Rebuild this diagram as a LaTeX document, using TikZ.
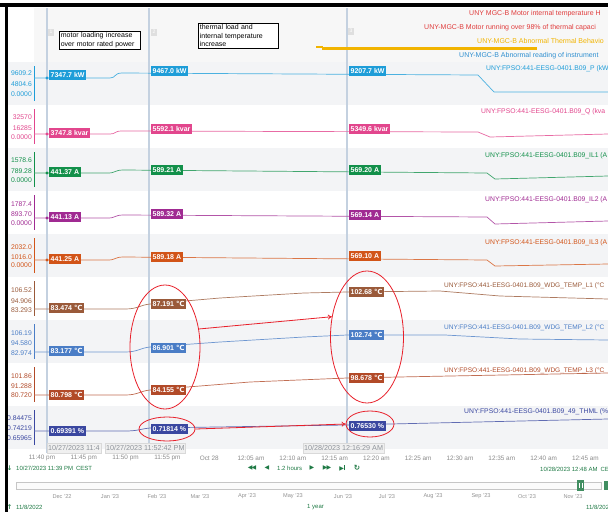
\documentclass[tikz,border=0pt]{standalone}
\usepackage{fontspec}
\setmainfont{Liberation Sans}
\newfontfamily\djv{DejaVu Sans}
\usetikzlibrary{shapes.geometric,arrows.meta}
\definecolor{pcol}{HTML}{1E9DD8}
\definecolor{qcol}{HTML}{E2468D}
\definecolor{gacol}{HTML}{12904A}
\definecolor{gbcol}{HTML}{A02A92}
\definecolor{gccol}{HTML}{D25418}
\definecolor{tacol}{HTML}{9A5A3A}
\definecolor{tbcol}{HTML}{4A7DC6}
\definecolor{tccol}{HTML}{B24A28}
\definecolor{hcol}{HTML}{3A47A0}
\definecolor{bandcol}{HTML}{F3F4F6}
\definecolor{curcol}{HTML}{C4D1E0}
\definecolor{annred}{HTML}{E8202A}
\definecolor{alred}{HTML}{E03C3C}
\definecolor{alyel}{HTML}{F2B400}
\definecolor{alblue}{HTML}{2F8FD0}
\definecolor{navgreen}{HTML}{1F7A45}
\definecolor{datecol}{HTML}{8E939A}
\newcommand\dgc{{\djv ℃}}
\begin{document}
\begin{tikzpicture}[x=1pt,y=-1pt,
  every node/.style={inner sep=0pt},
  vbox/.style={fill=#1, text=white, font=\fontsize{7}{8}\selectfont\bfseries, inner xsep=1.5pt, inner ysep=0pt, minimum height=10pt, anchor=west},
  axl/.style={text=#1, font=\fontsize{6.8}{7}\selectfont, anchor=east},
  rlab/.style={text=#1, font=\fontsize{6.8}{8}\selectfont, anchor=west},
  tlab/.style={text=#1, font=\fontsize{6.55}{8}\selectfont, anchor=west},
  alab/.style={text=#1, font=\fontsize{7}{8}\selectfont, anchor=west},
  dline/.style={#1!80, line width=0.7},
  axline/.style={#1, line width=0.8},
  annbox/.style={draw=black, line width=0.7, fill=white, anchor=north west, align=left, font=\fontsize{7}{8.2}\selectfont, inner xsep=1.5pt, inner ysep=1.5pt},
  redring/.style={ellipse, draw=annred, line width=0.8, inner sep=0pt},
  redarrow/.style={annred, line width=0.8, -{To[length=4pt,width=5pt]}},
  datebox/.style={fill=gray!12, draw=gray!30, text=datecol, font=\fontsize{7.2}{8}\selectfont, anchor=west, minimum height=10pt, inner xsep=1pt},
  tick/.style={text=gray!90, font=\fontsize{6.4}{7}\selectfont},
  month/.style={text=gray!85, font=\fontsize{5.6}{6}\selectfont},
  nav/.style={text=navgreen, font=\fontsize{6}{7}\selectfont},
  numbox/.style={fill=gray!25, text=white, font=\fontsize{5}{5}\selectfont, minimum width=5.5pt, minimum height=7pt}
]
\useasboundingbox (0,0) rectangle (608,512);
\clip (0,0) rectangle (608,512);
\fill[white] (0,0) rectangle (608,512);
% bands
\fill[gray!6] (34,8) rectangle (608,62);
\foreach \t in {62,148,234,320,406} \fill[bandcol] (8,\t) rectangle (608,\t+43);
% cursors
\foreach \x in {47,149,347} \draw[curcol, line width=1.2] (\x,8) -- (\x,453);
\node[numbox] (c1) at (51,32) {1};
\node[numbox] (c2) at (154,32) {2};
\node[numbox] (c3) at (351,31) {3};

% ---------- P ----------
\node[axl=pcol] (pa1) at (32,73) {9609.2};
\node[axl=pcol] (pa2) at (32,84) {4804.6};
\node[axl=pcol] (pa3) at (32,94) {0.0000};
\draw[axline=pcol] (34,66) -- (34,101);
\draw[dline=pcol] (34,78) -- (110,78) .. controls (116,78) and (114,73) .. (122,73) -- (478,75) -- (494,92) -- (608,92);
\fill[pcol] (47,78) circle (1.6);
\node[vbox=pcol] (pb1) at (49,75) {7347.7 kW};
\node[vbox=pcol] (pb2) at (151,71) {9467.0 kW};
\node[vbox=pcol] (pb3) at (349,71) {9207.7 kW};
\node[rlab=pcol] (pr) at (486,69) {UNY:FPSO:441-EESG-0401.B09\_P (kW};

% ---------- Q ----------
\node[axl=qcol] (qa1) at (32,117) {32570};
\node[axl=qcol] (qa2) at (32,128) {16285};
\node[axl=qcol] (qa3) at (32,137) {0.0000};
\draw[axline=qcol] (34,109) -- (34,144);
\draw[dline=qcol] (34,134) -- (110,134) .. controls (116,134) and (114,131) .. (122,131) -- (478,132) -- (490,137) -- (608,134);
\fill[qcol] (47,134) circle (1.6);
\node[vbox=qcol] (qb1) at (49,133) {3747.8 kvar};
\node[vbox=qcol] (qb2) at (151,129) {5592.1 kvar};
\node[vbox=qcol] (qb3) at (349,129) {5349.6 kvar};
\node[rlab=qcol] (qr) at (481,112) {UNY:FPSO:441-EESG-0401.B09\_Q (kva};

% ---------- IL1 ----------
\node[axl=gacol] (ga1) at (32,160) {1578.6};
\node[axl=gacol] (ga2) at (32,171) {789.28};
\node[axl=gacol] (ga3) at (32,180) {0.0000};
\draw[axline=gacol] (34,152) -- (34,187);
\draw[dline=gacol] (34,173) -- (108,173) .. controls (116,173) and (114,170) .. (124,170) -- (487,173) -- (495,179) -- (608,176);
\fill[gacol] (47,173) circle (1.6);
\node[vbox=gacol] (gb1) at (49,172) {441.37 A};
\node[vbox=gacol] (gb2) at (151,170) {589.21 A};
\node[vbox=gacol] (gb3) at (349,170) {569.20 A};
\node[rlab=gacol] (gr) at (485,156) {UNY:FPSO:441-EESG-0401.B09\_IL1 (A};

% ---------- IL2 ----------
\node[axl=gbcol] (ha1) at (32,204) {1787.4};
\node[axl=gbcol] (ha2) at (32,214) {893.70};
\node[axl=gbcol] (ha3) at (32,223) {0.0000};
\draw[axline=gbcol] (34,195) -- (34,230);
\draw[dline=gbcol] (34,218) -- (108,218) .. controls (116,218) and (114,215) .. (124,215) -- (487,217) -- (495,224) -- (608,221);
\fill[gbcol] (47,218) circle (1.6);
\node[vbox=gbcol] (hb1) at (49,217) {441.13 A};
\node[vbox=gbcol] (hb2) at (151,214) {589.32 A};
\node[vbox=gbcol] (hb3) at (349,215) {569.14 A};
\node[rlab=gbcol] (hr) at (485,200) {UNY:FPSO:441-EESG-0401.B09\_IL2 (A};

% ---------- IL3 ----------
\node[axl=gccol] (ia1) at (32,247) {2032.0};
\node[axl=gccol] (ia2) at (32,257) {1016.0};
\node[axl=gccol] (ia3) at (32,265) {0.0000};
\draw[axline=gccol] (34,238) -- (34,273);
\draw[dline=gccol] (34,260) -- (108,260) .. controls (116,260) and (114,257) .. (124,257) -- (487,260) -- (495,266) -- (608,264);
\fill[gccol] (47,260) circle (1.6);
\node[vbox=gccol] (ib1) at (49,259) {441.25 A};
\node[vbox=gccol] (ib2) at (151,257) {589.18 A};
\node[vbox=gccol] (ib3) at (349,256) {569.10 A};
\node[rlab=gccol] (ir) at (485,243) {UNY:FPSO:441-EESG-0401.B09\_IL3 (A};

% ---------- TEMP L1 ----------
\node[axl=tacol] (ja1) at (32,290) {106.52};
\node[axl=tacol] (ja2) at (32,301) {94.906};
\node[axl=tacol] (ja3) at (32,310) {83.293};
\draw[axline=tacol] (34,281) -- (34,316);
\draw[dline=tacol] (34,309) -- (125,309) .. controls (138,309) and (140,305) .. (150,304) -- (220,298) -- (304,293) -- (347,292) -- (440,291) -- (500,296) -- (608,299);
\node[vbox=tacol] (jb1) at (49,308) {83.474 \dgc};
\node[vbox=tacol] (jb2) at (151,304) {87.191 \dgc};
\node[vbox=tacol] (jb3) at (349,292) {102.68 \dgc};
\node[tlab=tacol] (jr) at (444,286) {UNY:FPSO:441-EESG-0401.B09\_WDG\_TEMP\_L1 (°C};

% ---------- TEMP L2 ----------
\node[axl=tbcol] (ka1) at (32,333) {106.19};
\node[axl=tbcol] (ka2) at (32,343) {94.580};
\node[axl=tbcol] (ka3) at (32,353) {82.974};
\draw[axline=tbcol] (34,324) -- (34,359);
\draw[dline=tbcol] (34,352) -- (125,352) .. controls (138,352) and (140,348) .. (150,347) -- (220,342) -- (304,337) -- (347,335) -- (445,335) -- (520,339) -- (608,340);
\node[vbox=tbcol] (kb1) at (49,351) {83.177 \dgc};
\node[vbox=tbcol] (kb2) at (151,348) {86.901 \dgc};
\node[vbox=tbcol] (kb3) at (349,335) {102.74 \dgc};
\node[tlab=tbcol] (kr) at (444,328) {UNY:FPSO:441-EESG-0401.B09\_WDG\_TEMP\_L2 (°C};

% ---------- TEMP L3 ----------
\node[axl=tccol] (la1) at (32,376) {101.86};
\node[axl=tccol] (la2) at (32,386) {91.288};
\node[axl=tccol] (la3) at (32,395) {80.720};
\draw[axline=tccol] (34,367) -- (34,402);
\draw[dline=tccol] (34,395) -- (125,395) .. controls (138,395) and (140,391) .. (150,390) -- (250,382) -- (347,378) -- (450,376) -- (608,373);
\node[vbox=tccol] (lb1) at (49,395) {80.798 \dgc};
\node[vbox=tccol] (lb2) at (151,390) {84.155 \dgc};
\node[vbox=tccol] (lb3) at (349,378) {98.678 \dgc};
\node[tlab=tccol] (lr) at (444,371) {UNY:FPSO:441-EESG-0401.B09\_WDG\_TEMP\_L3 (°C};

% ---------- THML ----------
\node[axl=hcol] (ma1) at (32,418) {0.84475};
\node[axl=hcol] (ma2) at (32,428) {0.74219};
\node[axl=hcol] (ma3) at (32,438) {0.65965};
\draw[axline=hcol] (34,410) -- (34,445);
\draw[dline=hcol] (34,431) -- (125,431) .. controls (138,431) and (140,429) .. (150,428) -- (347,425) -- (608,419);
\node[vbox=hcol] (mb1) at (49,431) {0.69391 \%};
\node[vbox=hcol] (mb2) at (151,429) {0.71814 \%};
\node[vbox=hcol] (mb3) at (349,426) {0.76530 \%};
\node[rlab=hcol] (mr) at (464,412) {UNY:FPSO:441-EESG-0401.B09\_49\_THML (\%};

% ---------- annotations ----------
\node[annbox, text width=78pt] (n1) at (59,31) {motor loading increase\\over motor rated power};
\node[annbox, text width=77pt] (n2) at (198,23) {thermal load and\\internal temperature\\increase};

% ---------- alarms ----------
\node[alab=alred] (al1) at (469,14) {UNY MGC-B Motor internal temperature H};
\node[alab=alred] (al2) at (424,28) {UNY-MGC-B Motor running over 98\% of thermal capaci};
\node[alab=alyel] (al3) at (477,41) {UNY-MGC-B Abnormal Thermal Behavio};
\node[alab=alblue] (al4) at (459,56) {UNY-MGC-B Abnormal reading of instrument};
\draw[alyel, line width=3] (322,48.5) -- (537,48.5);
\draw[alyel, line width=2] (316,46.5) -- (323,46.5);

% ---------- red marks ----------
\node[redring, minimum width=70pt, minimum height=124pt] (e1) at (165,347) {};
\node[redring, minimum width=73pt, minimum height=132pt] (e2) at (367,337) {};
\node[redring, minimum width=56pt, minimum height=24pt] (e3) at (167,429) {};
\node[redring, minimum width=48pt, minimum height=26pt] (e4) at (370,424) {};
\draw[redarrow] (e1.28) -- (e2.150);
\draw[redarrow] (e3.east) -- (e4.west);

% ---------- date boxes ----------
\node[datebox] (d1) at (47,448) {10/27/2023 11:4};
\node[datebox] (d2) at (105,448) {10/27/2023 11:52:42 PM};
\node[datebox] (d3) at (303,448) {10/28/2023 12:16:29 AM};

% ---------- time axis ----------
\foreach \t [count=\i from 0] in {11:40 pm,11:45 pm,11:50 pm,11:55 pm,Oct 28,12:05 am,12:10 am,12:15 am,12:20 am,12:25 am,12:30 am,12:35 am,12:40 am,12:45 am}
  \node[tick] (t\i) at ({42+41.8*\i},458) {\t};

% ---------- navigation ----------
\node[nav, font=\djv\fontsize{6.5}{7}\selectfont\bfseries] (down) at (9.5,468) {↓};
\node[nav, anchor=west] (start) at (16,468) {10/27/2023 11:39 PM\enspace CEST};
\node[nav, font=\djv\fontsize{6}{7}\selectfont] (bb) at (252,468) {◀\kern-1pt◀};
\node[nav, font=\djv\fontsize{6}{7}\selectfont] (b) at (267,468) {◀};
\node[nav, anchor=west] (span) at (277,468) {1.2 hours};
\node[nav, font=\djv\fontsize{6}{7}\selectfont] (f) at (312,468) {▶};
\node[nav, font=\djv\fontsize{6}{7}\selectfont] (ff) at (327,468) {▶\kern-1pt▶};
\node[nav, font=\djv\fontsize{6}{7}\selectfont] (fe) at (342,468) {▶\kern-0.5pt\rule[-0.2pt]{0.9pt}{5pt}};
\node[nav, font=\djv\fontsize{7.5}{8}\selectfont\bfseries] (rf) at (357,468) {↻};
\node[nav, anchor=west] (end) at (540,469) {10/28/2023 12:48 AM\enspace CE};

% ---------- scrollbar ----------
\draw[gray!45, fill=gray!3, line width=0.6] (16,482) rectangle (601,489);
\fill[navgreen!85] (577,480) rectangle (584,491);
\draw[white, line width=0.5] (579,483) -- (579,488) (582,483) -- (582,488);
\fill[navgreen!85] (604,481) rectangle (610,490);
\foreach \m/\x in {Dec '22/62,Jan '23/110,Feb '23/157,Mar '23/200,Apr '23/247,May '23/293,Jun '23/343,Jul '23/387,Aug '23/433,Sep '23/481,Oct '23/527,Nov '23/573}
  \node[month] (m\x) at (\x,496.5) {\m};
\node[nav, font=\djv\fontsize{6.5}{7}\selectfont\bfseries] (up) at (9.5,507) {↑};
\node[nav, anchor=west] (from) at (16,507) {11/8/2022};
\node[nav, anchor=west] (yr) at (307,507) {1 year};
\node[nav, anchor=west] (to) at (586,507) {11/8/202};

% ---------- frame ----------
\fill[black] (0,3) rectangle (608,6.5);
\fill[black] (4.5,3) rectangle (8,512);
\end{tikzpicture}
\end{document}
